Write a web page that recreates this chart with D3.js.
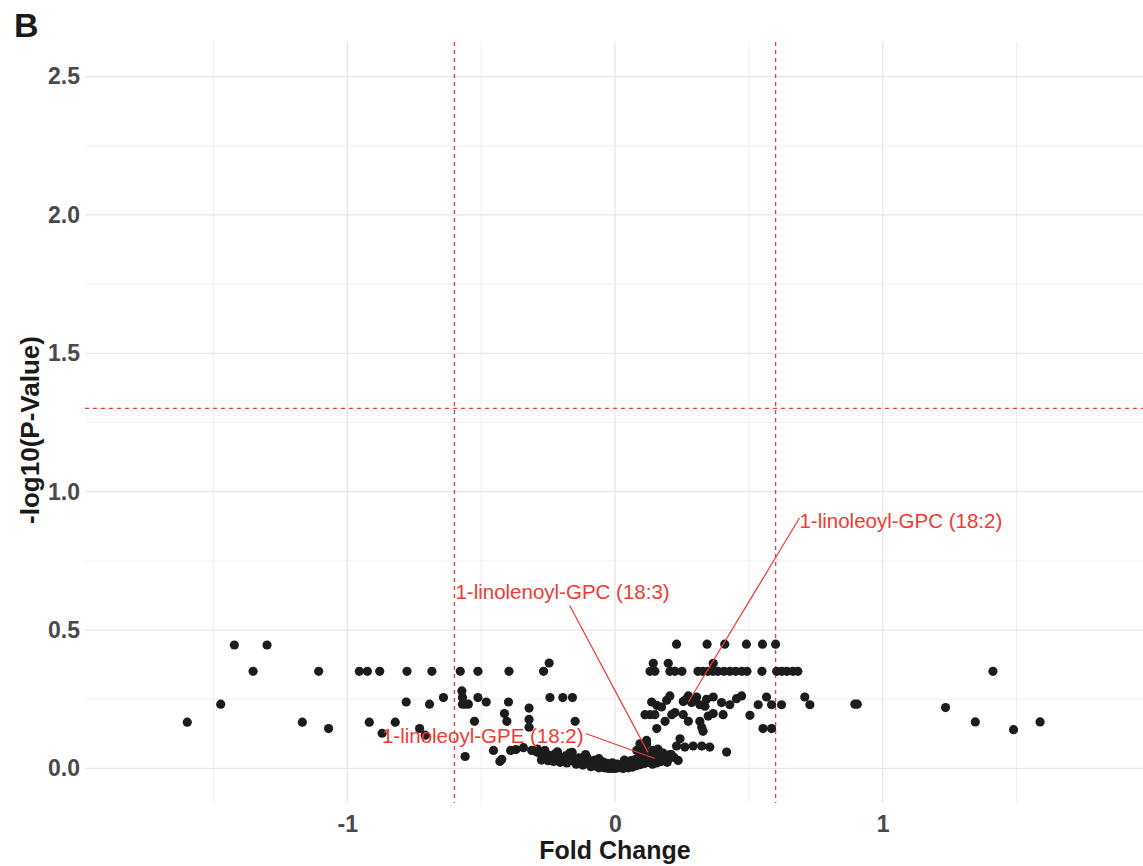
<!DOCTYPE html>
<html>
<head>
<meta charset="utf-8">
<script src="https://cdn.jsdelivr.net/npm/d3@7"></script>
<style>
  body { margin: 0; background: #fff; }
  svg { display: block; font-family: "Liberation Sans", Arial, sans-serif; }
</style>
</head>
<body>
<svg id="chart" width="1143" height="866"></svg>
<script>
// fold change (x) and -log10(p) (y)
var foldChange = [
  -1.598, -1.473, -1.422, -1.352, -1.300, -1.168, -1.107, -1.070, -0.955, -0.925,
  -0.879, -0.918, -0.870, -0.777, -0.684, -0.780, -0.693, -0.641, -0.821, -0.730,
  -0.709, -0.578, -0.512, -0.396, -0.267, -0.246, -0.572, -0.570, -0.570, -0.560,
  -0.548, -0.512, -0.481, -0.398, -0.321, -0.321, -0.243, -0.195, -0.159, -0.525,
  -0.404, -0.413, -0.321, -0.560, -0.454, -0.423, -0.390, -0.370, -0.342, -0.311,
  -0.292, -0.430, -0.149, -0.290, -0.262,
  // dense band around zero
  -0.280, -0.270, -0.260, -0.255, -0.245, -0.235, -0.225, -0.220, -0.210, -0.200,
  -0.190, -0.185, -0.175, -0.165, -0.160, -0.150, -0.140, -0.135, -0.125, -0.115,
  -0.110, -0.100, -0.095, -0.085, -0.080, -0.070, -0.065, -0.055, -0.050, -0.040,
  -0.035, -0.025, -0.020, -0.012, -0.005, 0.000, 0.005, 0.012, 0.020, 0.025,
  0.032, 0.040, 0.045, 0.055, 0.060, 0.070, 0.075, 0.085, 0.090, 0.100,
  0.105, 0.115, 0.120, 0.130, 0.135, 0.145, 0.150, 0.160, 0.165, 0.175,
  0.180, 0.190, 0.200, 0.210, 0.220,
  -0.275, -0.250, -0.230, -0.205, -0.180, -0.170, -0.145, -0.120, -0.105, -0.090,
  -0.075, -0.060, -0.045, -0.030, -0.015, 0.008, 0.030, 0.050, 0.065, 0.080,
  0.095, 0.110, 0.125, 0.140, 0.155, 0.170, 0.185, 0.195, -0.215, -0.160,
  -0.110, -0.060, -0.010, 0.035, 0.140, 0.160,
  0.093, 0.118, 0.081, 0.106, 0.118, 0.160, 0.175, 0.190, 0.205,
  // right side
  0.230, 0.344, 0.410, 0.491, 0.551, 0.600,
  0.143, 0.199, 0.367,
  0.131, 0.149, 0.205, 0.224, 0.250, 0.310, 0.328, 0.347, 0.366, 0.384,
  0.407, 0.429, 0.451, 0.474, 0.493, 0.549, 0.604, 0.623, 0.642, 0.664, 0.683,
  0.137, 0.156, 0.174, 0.193, 0.205, 0.255, 0.274, 0.286, 0.305, 0.317,
  0.336, 0.342, 0.367, 0.398, 0.429, 0.454, 0.473, 0.535, 0.566, 0.585,
  0.622, 0.709, 0.728, 0.265, 0.295,
  0.112, 0.131, 0.149, 0.187, 0.212, 0.224, 0.255, 0.274, 0.317, 0.324,
  0.329, 0.348, 0.367, 0.404, 0.504, 0.156, 0.553, 0.585,
  0.243, 0.230, 0.261, 0.292, 0.324, 0.354, 0.417, 0.106, 0.236,
  0.896, 0.905, 1.235, 1.346, 1.412, 1.489, 1.588
];
var negLogP = [
  0.167, 0.232, 0.446, 0.351, 0.446, 0.167, 0.351, 0.144, 0.351, 0.351,
  0.351, 0.167, 0.127, 0.351, 0.351, 0.240, 0.232, 0.256, 0.167, 0.144,
  0.120, 0.351, 0.351, 0.351, 0.351, 0.381, 0.280, 0.256, 0.232, 0.232,
  0.232, 0.256, 0.240, 0.240, 0.218, 0.177, 0.256, 0.256, 0.256, 0.170,
  0.170, 0.198, 0.149, 0.043, 0.065, 0.033, 0.065, 0.068, 0.075, 0.065,
  0.059, 0.025, 0.170, 0.070, 0.065,
  0.055, 0.042, 0.050, 0.035, 0.047, 0.040, 0.052, 0.033, 0.045, 0.038,
  0.030, 0.045, 0.035, 0.028, 0.040, 0.032, 0.025, 0.038, 0.030, 0.022,
  0.035, 0.018, 0.028, 0.012, 0.022, 0.008, 0.018, 0.005, 0.014, 0.002,
  0.010, 0.000, 0.006, 0.000, 0.004, 0.000, 0.008, 0.002, 0.012, 0.005,
  0.016, 0.010, 0.022, 0.015, 0.028, 0.020, 0.032, 0.025, 0.036, 0.030,
  0.042, 0.033, 0.048, 0.038, 0.050, 0.030, 0.045, 0.035, 0.052, 0.040,
  0.055, 0.045, 0.035, 0.050, 0.040,
  0.030, 0.028, 0.025, 0.022, 0.020, 0.055, 0.015, 0.012, 0.040, 0.006,
  0.030, 0.002, 0.024, 0.018, 0.015, 0.016, 0.000, 0.002, 0.005, 0.010,
  0.014, 0.018, 0.022, 0.015, 0.020, 0.024, 0.028, 0.022, 0.060, 0.058,
  0.050, 0.035, 0.020, 0.030, 0.065, 0.070,
  0.089, 0.089, 0.065, 0.065, 0.101, 0.045, 0.055, 0.040, 0.050,
  0.449, 0.449, 0.449, 0.449, 0.449, 0.449,
  0.380, 0.380, 0.380,
  0.351, 0.351, 0.351, 0.351, 0.351, 0.351, 0.351, 0.351, 0.351, 0.351,
  0.351, 0.351, 0.351, 0.351, 0.351, 0.351, 0.351, 0.351, 0.351, 0.351, 0.351,
  0.240, 0.228, 0.222, 0.246, 0.262, 0.242, 0.262, 0.238, 0.258, 0.230,
  0.225, 0.250, 0.258, 0.238, 0.230, 0.252, 0.262, 0.230, 0.258, 0.230,
  0.230, 0.258, 0.230, 0.250, 0.245,
  0.194, 0.194, 0.194, 0.170, 0.194, 0.202, 0.194, 0.170, 0.170, 0.149,
  0.134, 0.189, 0.198, 0.194, 0.192, 0.144, 0.144, 0.144,
  0.107, 0.081, 0.077, 0.081, 0.081, 0.077, 0.059, 0.071, 0.029,
  0.232, 0.232, 0.220, 0.168, 0.351, 0.140, 0.168
];

// labelled metabolites: point position and label centre
var labelNames = ["1-linoleoyl-GPC (18:2)", "1-linolenoyl-GPC (18:3)", "1-linoleoyl-GPE (18:2)"];
var labelFc = [0.274, 0.123, 0.149];
var labelP = [0.240, 0.058, 0.036];
var labelTextFc = [1.068, -0.196, -0.494];
var labelTextP = [0.894, 0.637, 0.119];

var fcCut = [-0.6, 0.6];
var pCut = -Math.log10(0.05);
var xTicks = [-1, 0, 1];
var xMinor = [-1.5, -0.5, 0.5, 1.5];
var yTicks = [0, 0.5, 1, 1.5, 2, 2.5];
var yMinor = [0.25, 0.75, 1.25, 1.75, 2.25];

var data = foldChange.map(function(d, i) { return {fc: d, p: negLogP[i]}; });

var svg = d3.select("#chart"),
    margin = {top: 42, right: -2, bottom: 63, left: 85},
    width = +svg.attr("width") - margin.left - margin.right,
    height = +svg.attr("height") - margin.top - margin.bottom,
    g = svg.append("g").attr("transform", "translate(" + margin.left + "," + margin.top + ")");

var red = "#f03a32";

var x = d3.scaleLinear().domain([-1.98, 1.98]).range([0, width]);
var y = d3.scaleLinear().domain([-0.125, 2.625]).range([height, 0]);

// grid
g.selectAll(".minor-x").data(xMinor).enter().append("line")
    .attr("x1", x).attr("x2", x).attr("y1", 0).attr("y2", height)
    .attr("stroke", "#efefef").attr("stroke-width", 1);
g.selectAll(".minor-y").data(yMinor).enter().append("line")
    .attr("y1", y).attr("y2", y).attr("x1", 0).attr("x2", width)
    .attr("stroke", "#efefef").attr("stroke-width", 1);
g.selectAll(".major-x").data(xTicks).enter().append("line")
    .attr("x1", x).attr("x2", x).attr("y1", 0).attr("y2", height)
    .attr("stroke", "#e6e6e6").attr("stroke-width", 1.3);
g.selectAll(".major-y").data(yTicks).enter().append("line")
    .attr("y1", y).attr("y2", y).attr("x1", 0).attr("x2", width)
    .attr("stroke", "#e6e6e6").attr("stroke-width", 1.3);

// axes (labels only, ggplot minimal style)
var xAxis = g.append("g")
    .attr("transform", "translate(0," + height + ")")
    .call(d3.axisBottom(x).tickValues(xTicks).tickSize(0).tickPadding(13)
      .tickFormat(function(d) { return String(d); }));
var yAxis = g.append("g")
    .call(d3.axisLeft(y).tickValues(yTicks).tickSize(0).tickPadding(5).tickFormat(d3.format(".1f")));
[xAxis, yAxis].forEach(function(a) {
  a.select(".domain").remove();
  a.selectAll("text")
      .attr("fill", "#4a4a4a")
      .style("font-size", "23px")
      .style("font-weight", "bold")
      .style("font-family", "'Liberation Sans', Arial, sans-serif");
});
xAxis.selectAll("text").attr("dy", "0.71em");

// threshold lines
g.selectAll(".vcut").data(fcCut).enter().append("line")
    .attr("x1", x).attr("x2", x).attr("y1", 0).attr("y2", height)
    .attr("stroke", red).attr("stroke-width", 1.3).attr("stroke-dasharray", "4,4");
g.append("line")
    .attr("x1", 0).attr("x2", width).attr("y1", y(pCut)).attr("y2", y(pCut))
    .attr("stroke", red).attr("stroke-width", 1.3).attr("stroke-dasharray", "4,4");

// points
g.selectAll(".dot").data(data).enter().append("circle")
    .attr("cx", function(d) { return x(d.fc); })
    .attr("cy", function(d) { return y(d.p); })
    .attr("r", 4.6)
    .attr("fill", "#1c1c1c");

// repel-style labels
var segLayer = g.append("g");
var textLayer = g.append("g");
labelNames.forEach(function(name, i) {
  var px = x(labelFc[i]), py = y(labelP[i]);
  var cx = x(labelTextFc[i]), cy = y(labelTextP[i]);
  var t = textLayer.append("text")
      .attr("x", cx).attr("y", cy).attr("dy", "0.35em")
      .attr("text-anchor", "middle")
      .attr("fill", red)
      .style("font-size", "20.5px")
      .text(name);
  var b = t.node().getBBox();
  var sx, sy;
  if (px < b.x) { sx = b.x; sy = cy - 3; }
  else if (px > b.x + b.width) { sx = b.x + b.width + 2; sy = cy - 2; }
  else {
    sy = b.y + b.height + 2;
    sx = cx + (sy - cy) * (px - cx) / (py - cy);
  }
  segLayer.append("line")
      .attr("x1", sx).attr("y1", sy).attr("x2", px).attr("y2", py)
      .attr("stroke", red).attr("stroke-width", 1.2);
});

// titles
svg.append("text")
    .attr("x", margin.left + x(0)).attr("y", 859)
    .attr("text-anchor", "middle")
    .style("font-size", "25px").style("font-weight", "bold")
    .attr("fill", "#1a1a1a")
    .text("Fold Change");
svg.append("text")
    .attr("transform", "translate(39," + 430 + ") rotate(-90)")
    .attr("text-anchor", "middle")
    .style("font-size", "26px").style("font-weight", "bold")
    .attr("fill", "#1a1a1a")
    .text("-log10(P-Value)");
svg.append("text")
    .attr("x", 14).attr("y", 37)
    .style("font-size", "34px").style("font-weight", "bold")
    .attr("fill", "#1a1a1a")
    .text("B");
</script>
</body>
</html>
